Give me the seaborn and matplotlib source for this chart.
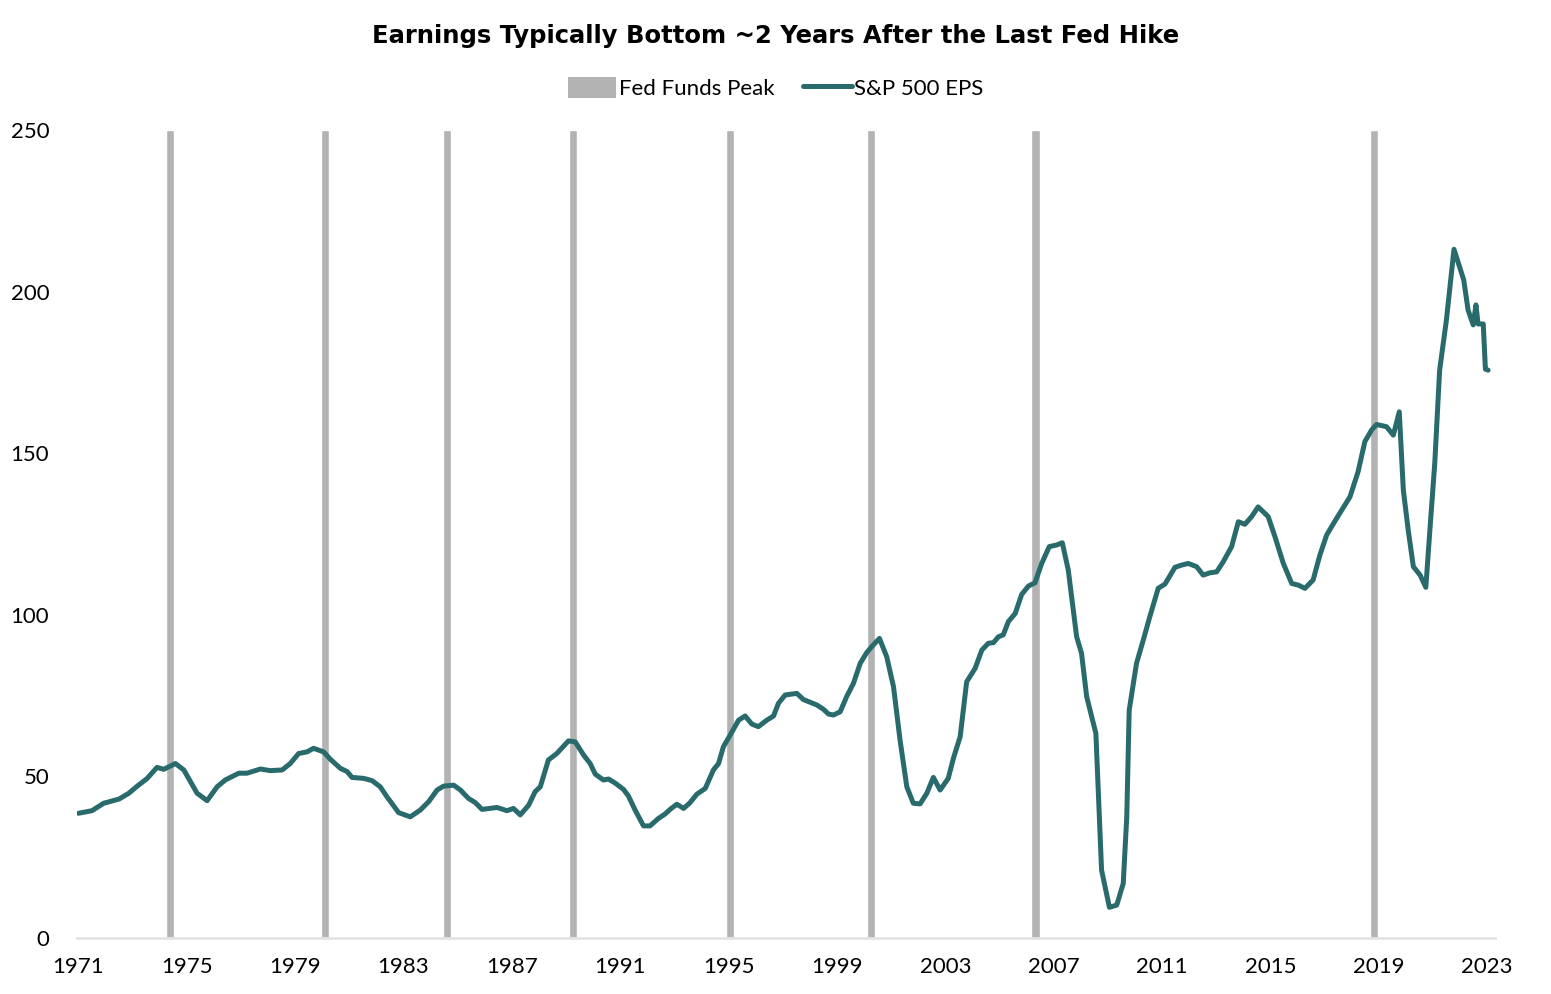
import matplotlib
matplotlib.use("Agg")
import matplotlib.pyplot as plt
from matplotlib.patches import Patch
from matplotlib.lines import Line2D
import seaborn as sns
import pandas as pd

# S&P 500 EPS, x as fractional year
eps_year = [
    1971.0, 1971.5, 1971.93, 1972.5, 1972.86, 1973.17, 1973.54, 1973.9, 1974.15, 1974.58,
    1974.89, 1975.38, 1975.75, 1976.12, 1976.42, 1976.92, 1977.22, 1977.72, 1978.08, 1978.52,
    1978.82, 1979.13, 1979.44, 1979.68, 1980.05, 1980.3, 1980.67, 1980.92, 1981.1, 1981.53,
    1981.84, 1982.14, 1982.39, 1982.82, 1983.25, 1983.62, 1983.93, 1984.24, 1984.48, 1984.85,
    1985.1, 1985.4, 1985.65, 1985.9, 1986.45, 1986.82, 1987.06, 1987.31, 1987.62, 1987.86,
    1988.05, 1988.35, 1988.66, 1989.09, 1989.34, 1989.65, 1989.89, 1990.08, 1990.38, 1990.57,
    1990.82, 1991.12, 1991.3, 1991.55, 1991.86, 1992.1, 1992.41, 1992.66, 1992.84, 1993.09,
    1993.34, 1993.58, 1993.83, 1994.14, 1994.44, 1994.63, 1994.81, 1995.06, 1995.37, 1995.61,
    1995.86, 1996.1, 1996.41, 1996.66, 1996.84, 1997.09, 1997.52, 1997.76, 1998.26, 1998.5,
    1998.69, 1998.87, 1999.12, 1999.36, 1999.61, 1999.86, 2000.1, 2000.3, 2000.57, 2000.84,
    2001.09, 2001.33, 2001.58, 2001.82, 2002.07, 2002.32, 2002.56, 2002.81, 2003.11, 2003.3,
    2003.55, 2003.79, 2004.1, 2004.35, 2004.59, 2004.78, 2004.96, 2005.14, 2005.33, 2005.58,
    2005.82, 2006.07, 2006.31, 2006.56, 2006.84, 2007.11, 2007.32, 2007.54, 2007.85, 2008.03,
    2008.22, 2008.56, 2008.77, 2009.06, 2009.33, 2009.57, 2009.7, 2009.79, 2010.06, 2010.31,
    2010.55, 2010.86, 2011.11, 2011.48, 2011.73, 2011.97, 2012.28, 2012.52, 2012.77, 2013.02,
    2013.26, 2013.57, 2013.82, 2014.06, 2014.31, 2014.55, 2014.92, 2015.17, 2015.48, 2015.79,
    2016.03, 2016.28, 2016.58, 2016.83, 2017.08, 2017.45, 2017.94, 2018.24, 2018.49, 2018.74,
    2018.92, 2019.29, 2019.54, 2019.76, 2019.91, 2020.09, 2020.28, 2020.53, 2020.74, 2020.89,
    2021.07, 2021.25, 2021.5, 2021.78, 2022.14, 2022.3, 2022.49, 2022.59, 2022.67, 2022.86,
    2022.94, 2023.04,
]
eps_value = [
    38.6, 39.4, 41.7, 43.0, 44.8, 47.0, 49.4, 52.8, 52.2, 54.0,
    52.0, 44.8, 42.5, 46.8, 48.9, 51.0, 51.0, 52.3, 51.8, 52.0,
    54.0, 57.1, 57.6, 58.7, 57.6, 55.3, 52.5, 51.5, 49.7, 49.4,
    48.7, 46.8, 43.7, 38.8, 37.5, 39.6, 42.2, 45.8, 47.0, 47.3,
    45.8, 43.2, 41.9, 39.8, 40.4, 39.4, 40.1, 38.1, 41.1, 45.3,
    46.8, 55.1, 57.1, 61.0, 60.7, 56.6, 54.0, 50.7, 48.9, 49.2,
    47.9, 46.0, 44.0, 39.6, 34.7, 34.7, 37.0, 38.4, 39.8, 41.4,
    40.1, 41.9, 44.5, 46.3, 52.0, 54.0, 59.2, 62.8, 67.4, 68.7,
    66.2, 65.4, 67.4, 68.7, 72.6, 75.2, 75.7, 73.8, 72.1, 70.8,
    69.3, 69.0, 70.0, 74.7, 78.8, 85.0, 88.3, 90.3, 92.7, 87.0,
    77.7, 61.3, 46.8, 41.7, 41.5, 44.8, 49.7, 45.8, 49.4, 55.6,
    62.3, 79.3, 83.4, 89.1, 91.2, 91.4, 93.2, 93.8, 97.9, 100.4,
    106.3, 108.9, 109.9, 115.9, 121.1, 121.6, 122.3, 113.9, 93.2, 88.1,
    74.7, 63.3, 21.0, 9.5, 10.2, 16.9, 37.5, 70.5, 85.0, 92.2,
    99.4, 108.2, 109.5, 114.7, 115.4, 115.9, 114.9, 112.3, 113.0, 113.3,
    116.4, 121.1, 128.8, 128.0, 130.4, 133.4, 130.4, 124.2, 115.9, 109.7,
    109.2, 108.2, 110.8, 118.5, 124.7, 129.9, 136.5, 144.3, 153.6, 157.2,
    158.9, 158.2, 155.6, 162.8, 138.6, 126.2, 114.9, 112.3, 108.5, 126.2,
    146.9, 175.7, 191.2, 213.1, 203.6, 194.3, 189.7, 195.9, 190.0, 190.0,
    176.0, 175.7,
]

# last Fed hike (fed funds peak) dates
fed_peaks = [1974.38, 1980.1, 1984.6, 1989.27, 1995.05, 2000.25, 2006.33, 2018.82]

tick_years = list(range(1971, 2024, 4))

line_color = "#296b6d"
bar_color = "#b3b3b3"

sns.set_theme(style="white")
plt.rcParams["font.family"] = ["Lato", "DejaVu Sans"]

df = pd.DataFrame({"year": eps_year, "eps": eps_value})

fig = plt.figure(figsize=(15.51, 9.94), dpi=100)
ax = fig.add_axes([0.0497, 0.0563, 0.9143, 0.8129])

ax.bar(fed_peaks, [250] * len(fed_peaks), width=0.3, color=bar_color, zorder=1)
sns.lineplot(data=df, x="year", y="eps", color=line_color, linewidth=3.6,
             ax=ax, zorder=3, sort=False)

ax.set_xlim(1970.95, 2023.3)
ax.set_ylim(0, 250)
ax.set_yticks(range(0, 251, 50))
ax.set_xticks(tick_years)
ax.set_xticklabels([str(y) for y in tick_years])
ax.set_xlabel("")
ax.set_ylabel("")
ax.tick_params(axis="both", length=0, labelsize=16, colors="black")
ax.tick_params(axis="y", pad=20)
ax.tick_params(axis="x", pad=14)

for s in ["top", "right", "left"]:
    ax.spines[s].set_visible(False)
ax.spines["bottom"].set_color("#e3e3e3")
ax.spines["bottom"].set_linewidth(2)

fig.suptitle("Earnings Typically Bottom ~2 Years After the Last Fed Hike",
             y=1 - 36 / 994, va="center", fontsize=17.5, fontweight="bold",
             color="black", family="DejaVu Sans")

handles = [Patch(facecolor=bar_color, edgecolor="none"),
           Line2D([0], [0], color=line_color, linewidth=3.6)]
fig.legend(handles, ["Fed Funds Peak", "S&P 500 EPS"], loc="center",
           bbox_to_anchor=(0.5, 1 - 88 / 994), ncol=2, frameon=False,
           fontsize=16, handlelength=2.2, handleheight=1.1,
           handletextpad=0.1, columnspacing=1.3, labelcolor="black")

fig.savefig("out.png", dpi=100)
